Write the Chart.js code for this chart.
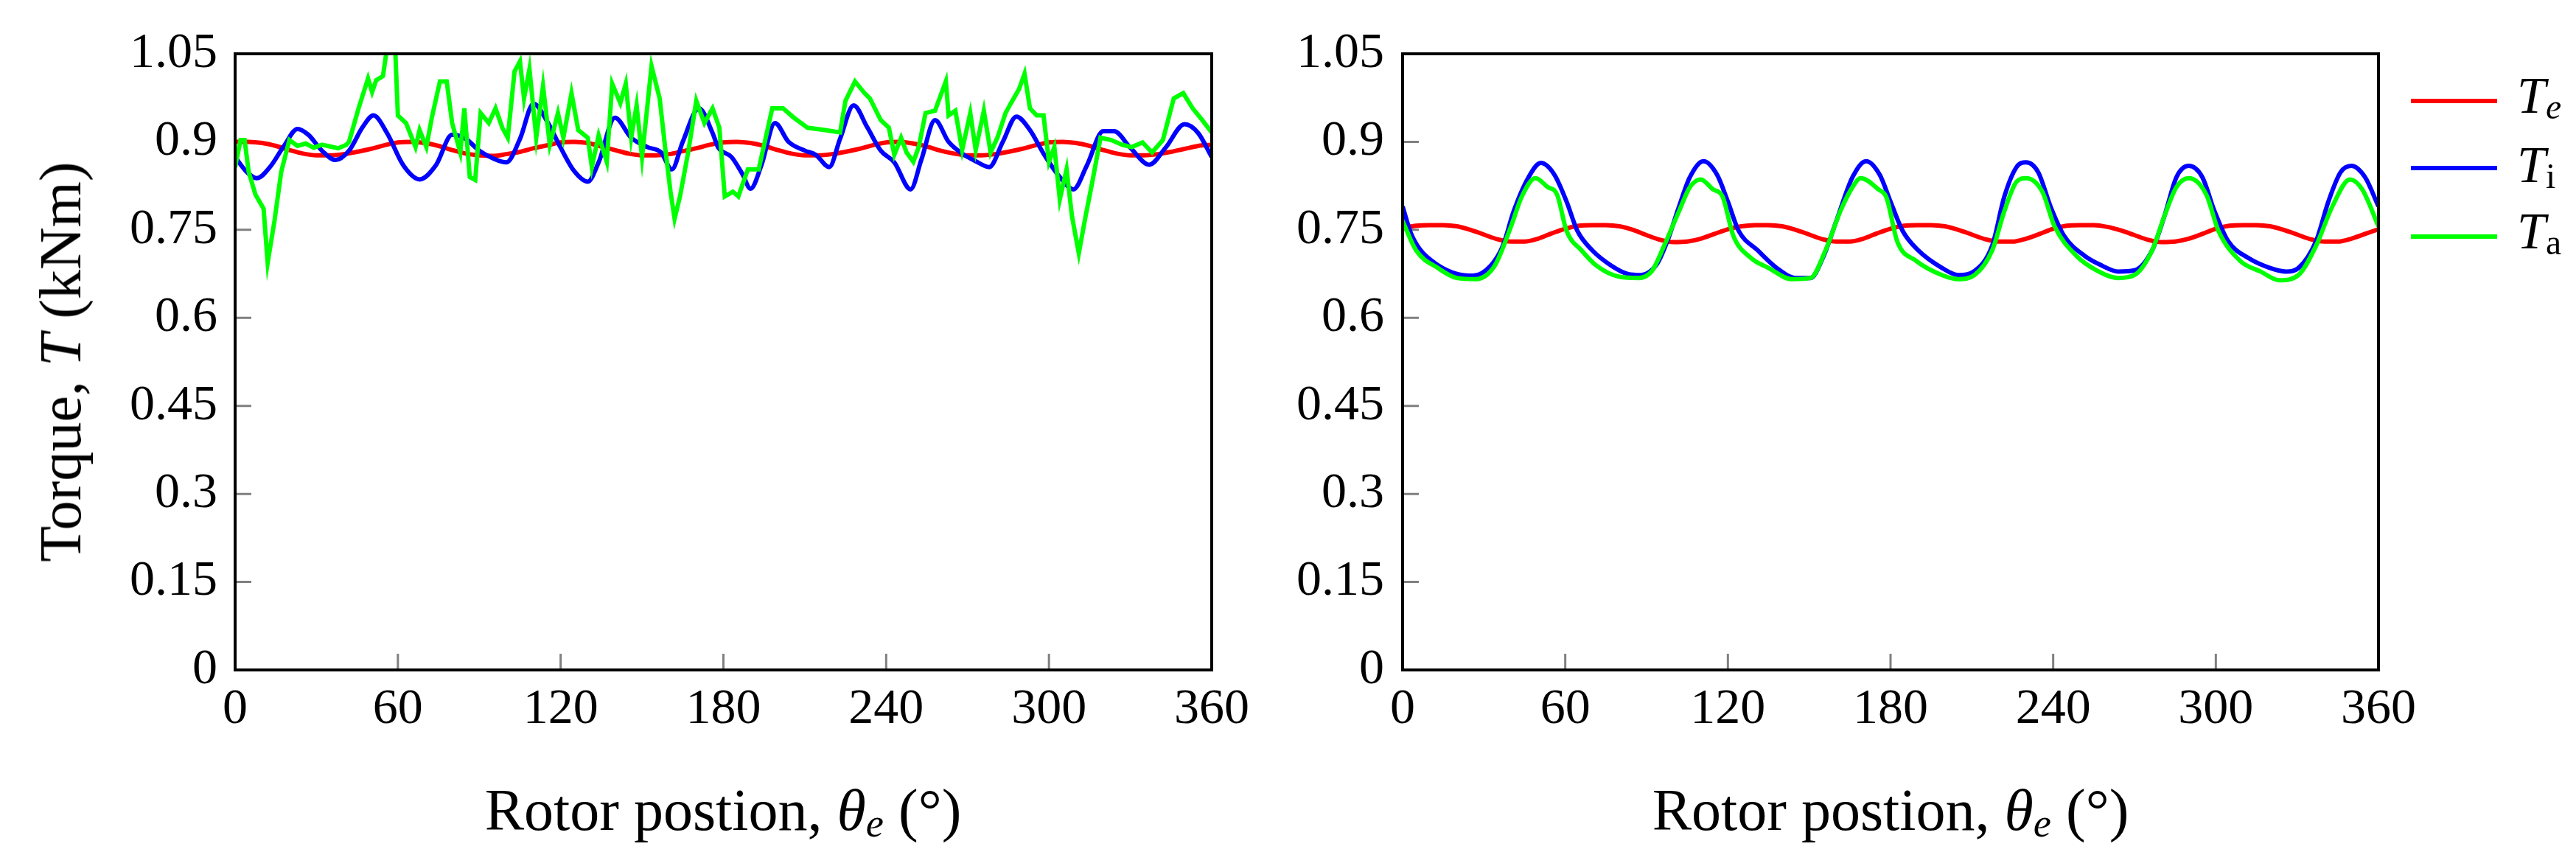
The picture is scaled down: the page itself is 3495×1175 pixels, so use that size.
<!DOCTYPE html>
<html>
<head>
<meta charset="utf-8">
<script src="https://cdn.jsdelivr.net/npm/chart.js@4.4.1/dist/chart.umd.min.js"></script>
<style>
  html, body { margin: 0; padding: 0; background: #fff; }
  body {
    width: 3495px; height: 1175px; position: relative; overflow: hidden;
    font-family: 'Liberation Serif', 'Times New Roman', serif; color: #000;
  }
  canvas { position: absolute; top: 0; }
  #leftChart { left: 0; }
  #rightChart { left: 1750px; }

  .axis-title {
    position: absolute; font-size: 80px; line-height: 1; white-space: nowrap;
    transform: translate(-50%, -50%);
  }
  .axis-title.vertical { transform: translate(-50%, -50%) rotate(-90deg); }
  .axis-title sub, .legend-text sub {
    font-size: 0.68em; vertical-align: -0.16em; line-height: 0;
  }

  .legend-line { position: absolute; left: 3271px; width: 117px; height: 6px; }
  .legend-text { position: absolute; left: 3415px; font-size: 70px; line-height: 1; white-space: nowrap; }
</style>
</head>
<body>

<canvas id="leftChart" width="1750" height="1175"></canvas>
<canvas id="rightChart" width="1745" height="1175"></canvas>

<div class="axis-title vertical" style="left:82px; top:491px;">Torque, <i>T</i> (kNm)</div>
<div class="axis-title" style="left:981px; top:1099px;">Rotor postion, <i>θ</i><sub><i>e</i></sub> (°)</div>
<div class="axis-title" style="left:2565px; top:1099px;">Rotor postion, <i>θ</i><sub><i>e</i></sub> (°)</div>

<div class="legend-line" style="top:134px; background:#ff0000;"></div>
<div class="legend-text" style="top:95px;"><i>T</i><sub><i>e</i></sub></div>
<div class="legend-line" style="top:225px; background:#0000ff;"></div>
<div class="legend-text" style="top:189px;"><i>T</i><sub>i</sub></div>
<div class="legend-line" style="top:318px; background:#00ff00;"></div>
<div class="legend-text" style="top:279px;"><i>T</i><sub>a</sub></div>

<script>
/* =========================
   TICKS
========================= */
const xTicks = [0, 60, 120, 180, 240, 300, 360];
const xTickLabels = ['0', '60', '120', '180', '240', '300', '360'];
const yTicks = [0, 0.15, 0.3, 0.45, 0.6, 0.75, 0.9, 1.05];
const yTickLabels = ['0', '0.15', '0.3', '0.45', '0.6', '0.75', '0.9', '1.05'];

/* =========================
   DATA (rotor angle in deg, torque in kNm)
========================= */
const angles5 = [
  0, 5, 10, 15, 20, 25, 30, 35, 40, 45, 50, 55,
  60, 65, 70, 75, 80, 85, 90, 95, 100, 105, 110, 115,
  120, 125, 130, 135, 140, 145, 150, 155, 160, 165, 170, 175,
  180, 185, 190, 195, 200, 205, 210, 215, 220, 225, 230, 235,
  240, 245, 250, 255, 260, 265, 270, 275, 280, 285, 290, 295,
  300, 305, 310, 315, 320, 325, 330, 335, 340, 345, 350, 355,
  360
];

// left plot - Te
const teLeft = [
  0.900, 0.900, 0.898, 0.893, 0.886, 0.880, 0.877, 0.877, 0.879, 0.883, 0.888, 0.894,
  0.899, 0.900, 0.898, 0.893, 0.886, 0.880, 0.877, 0.876, 0.879, 0.883, 0.889, 0.894,
  0.899, 0.900, 0.898, 0.892, 0.886, 0.880, 0.877, 0.877, 0.879, 0.884, 0.889, 0.895,
  0.899, 0.900, 0.898, 0.893, 0.886, 0.880, 0.877, 0.877, 0.879, 0.883, 0.888, 0.894,
  0.899, 0.900, 0.897, 0.892, 0.885, 0.880, 0.877, 0.877, 0.879, 0.883, 0.888, 0.894,
  0.899, 0.900, 0.898, 0.893, 0.886, 0.880, 0.877, 0.877, 0.879, 0.883, 0.888, 0.893,
  0.895
];

// left plot - Ti
const tiLeftDeg = [
  0, 4, 8, 13, 18, 23, 27, 32, 37, 42, 47, 51, 56, 62, 68, 74, 80, 85, 90, 95,
  100, 105, 110, 115, 120, 125, 130, 134, 140, 146, 152, 157, 161, 165, 171, 176,
  178, 183, 187, 190, 194, 199, 204, 210, 214, 219, 223, 228, 233, 238, 243, 249,
  253, 258, 263, 268, 273, 278, 283, 288, 293, 298, 304, 309, 314, 320, 324, 330,
  337, 343, 350, 355, 360
];
const tiLeft = [
  0.874, 0.850, 0.838, 0.858, 0.893, 0.922, 0.912, 0.885, 0.869, 0.885, 0.925, 0.945, 0.915, 0.860, 0.836, 0.860, 0.912, 0.905, 0.885, 0.872,
  0.865, 0.905, 0.965, 0.935, 0.890, 0.850, 0.832, 0.865, 0.941, 0.907, 0.891, 0.882, 0.853, 0.900, 0.957, 0.915,
  0.891, 0.874, 0.845, 0.820, 0.860, 0.932, 0.900, 0.885, 0.878, 0.857, 0.905, 0.962, 0.925, 0.885, 0.865, 0.819,
  0.870, 0.937, 0.900, 0.880, 0.867, 0.857, 0.900, 0.943, 0.920, 0.880, 0.840, 0.819, 0.860, 0.918, 0.918, 0.890,
  0.861, 0.890, 0.930, 0.915, 0.874
];

// left plot - Ta (measured, noisy)
const taLeftDeg = [
  0, 2, 3.5, 5, 7.5, 10.5, 12, 14.5, 17, 20, 23, 26, 29, 32, 35, 38, 41, 42, 45.5, 49,
  50.5, 52, 54.5, 56, 59, 60, 63, 66.5, 68, 70.5, 72.5, 75.5, 78, 80, 83, 84.5, 86.5, 88.5, 90.5, 93.5,
  96, 98.5, 100.5, 103, 105, 106.5, 108.5, 111, 113.5, 116, 119, 121, 124, 126.5, 130, 131.5, 134, 137, 139, 142,
  144, 146, 148, 150, 153.5, 156.5, 158.5, 160.5, 162, 164, 167, 170, 173, 176, 178.5, 180.5, 183.5, 185.5, 189, 193,
  198, 202, 206, 211, 217.5, 223, 225, 228.5, 232, 234, 238, 241, 243, 245.5, 247.5, 250, 252, 254.5, 258, 260,
  262, 263, 265.5, 268, 271, 273, 276, 278.5, 281, 284, 286, 289, 291, 293, 295.5, 298, 300, 302, 304, 306.5,
  308.5, 311, 313.5, 316, 319, 323, 327, 330.5, 334.5, 338, 342, 346, 349.5, 353, 356.5, 360
];
const taLeft = [
  0.857, 0.903, 0.903, 0.849, 0.810, 0.786, 0.694, 0.765, 0.849, 0.903, 0.893, 0.897, 0.890, 0.895, 0.892, 0.889, 0.895, 0.900, 0.957, 1.008,
  0.985, 1.005, 1.012, 1.060, 1.060, 0.945, 0.932, 0.891, 0.920, 0.891, 0.941, 1.003, 1.003, 0.932, 0.882, 0.957, 0.840, 0.835, 0.949, 0.932,
  0.957, 0.924, 0.907, 1.020, 1.037, 0.974, 1.024, 0.907, 0.995, 0.895, 0.949, 0.907, 0.983, 0.920, 0.907, 0.857, 0.911, 0.866, 0.999, 0.966,
  0.999, 0.907, 0.962, 0.874, 1.029, 0.974, 0.891, 0.815, 0.769, 0.807, 0.882, 0.970, 0.932, 0.957, 0.924, 0.807, 0.815, 0.807, 0.853, 0.853,
  0.957, 0.957, 0.941, 0.924, 0.920, 0.916, 0.970, 1.003, 0.983, 0.974, 0.937, 0.924, 0.878, 0.907, 0.882, 0.866, 0.891, 0.949, 0.953, 0.978,
  1.003, 0.945, 0.953, 0.886, 0.949, 0.886, 0.953, 0.882, 0.907, 0.949, 0.966, 0.990, 1.016, 0.957, 0.945, 0.945, 0.866, 0.891, 0.802, 0.853,
  0.773, 0.710, 0.773, 0.832, 0.907, 0.903, 0.895, 0.891, 0.899, 0.882, 0.903, 0.974, 0.983, 0.957, 0.937, 0.916
];

// right plot - Te
const teRight = [
  0.753, 0.757, 0.758, 0.758, 0.756, 0.750, 0.742, 0.734, 0.730, 0.730, 0.735, 0.744,
  0.752, 0.757, 0.758, 0.758, 0.756, 0.750, 0.741, 0.733, 0.729, 0.730, 0.735, 0.743,
  0.751, 0.756, 0.758, 0.758, 0.756, 0.750, 0.742, 0.734, 0.730, 0.730, 0.735, 0.744,
  0.752, 0.757, 0.758, 0.758, 0.756, 0.750, 0.742, 0.734, 0.730, 0.730, 0.735, 0.743,
  0.752, 0.757, 0.758, 0.758, 0.755, 0.749, 0.741, 0.733, 0.729, 0.730, 0.735, 0.743,
  0.752, 0.757, 0.758, 0.758, 0.756, 0.750, 0.742, 0.734, 0.730, 0.730, 0.735, 0.743,
  0.751
];

// right plot - Ti
const tiRightDeg = [
  0, 3, 6.5, 13, 20, 26, 32.5, 37, 41, 46.5, 51, 56, 60.5, 64.5, 70, 77, 83, 88, 94, 98,
  102, 106, 111, 116, 120, 124, 131, 138, 145, 150.5, 155, 160, 166, 171, 176, 180, 184.5, 190, 199, 205,
  211, 217.5, 222, 226.5, 230, 234.5, 239, 244, 251.5, 258, 264, 270, 276.5, 281, 285.5, 290, 295, 299.5, 304.5, 312,
  320, 326, 330.5, 337, 341.5, 346, 350, 355, 360
];
const tiRight = [
  0.790, 0.745, 0.716, 0.690, 0.675, 0.672, 0.689, 0.723, 0.782, 0.840, 0.864, 0.844, 0.798, 0.748, 0.715, 0.689, 0.675, 0.673, 0.693, 0.735,
  0.790, 0.840, 0.867, 0.844, 0.798, 0.748, 0.715, 0.685, 0.668, 0.668, 0.702, 0.765, 0.840, 0.867, 0.844, 0.798, 0.748, 0.716, 0.685, 0.673,
  0.680, 0.723, 0.807, 0.857, 0.865, 0.848, 0.790, 0.740, 0.706, 0.689, 0.679, 0.681, 0.715, 0.773, 0.840, 0.859, 0.840, 0.782, 0.731, 0.702,
  0.685, 0.679, 0.685, 0.731, 0.798, 0.848, 0.859, 0.840, 0.790
];

// right plot - Ta
const taRightDeg = [
  0, 5, 13, 20, 27, 34, 40, 44, 49, 53.5, 57, 60.5, 66, 71.5, 80, 87, 92, 96.5, 102, 106,
  110, 114.5, 118, 122, 128.5, 135, 143.5, 150.5, 156, 161.5, 166, 169, 175.5, 178.5, 182.5, 189.5, 199, 205, 211, 217.5,
  222, 226.5, 230, 236, 240.5, 248.5, 256, 264, 270, 276.5, 281, 285.5, 290, 296.5, 301, 309, 316.5, 323.5, 330.5, 337,
  343, 349.5, 354, 360
];
const taRight = [
  0.765, 0.715, 0.685, 0.668, 0.666, 0.689, 0.756, 0.807, 0.838, 0.823, 0.810, 0.748, 0.715, 0.689, 0.670, 0.668, 0.680, 0.723, 0.782, 0.823,
  0.836, 0.819, 0.807, 0.740, 0.702, 0.685, 0.666, 0.668, 0.715, 0.782, 0.823, 0.838, 0.819, 0.805, 0.730, 0.697, 0.673, 0.666, 0.673, 0.715,
  0.782, 0.832, 0.838, 0.815, 0.756, 0.706, 0.681, 0.668, 0.673, 0.715, 0.773, 0.823, 0.838, 0.810, 0.748, 0.697, 0.679, 0.664, 0.673, 0.723,
  0.790, 0.836, 0.819, 0.756
];

/* =========================
   HELPERS
========================= */
function toPoints(xs, ys) {
  return xs.map((x, i) => ({ x: x, y: ys[i] }));
}

function lineSet(label, color, points, order, smooth) {
  return {
    label: label,
    data: points,
    borderColor: color,
    backgroundColor: color,
    borderWidth: 6,
    pointRadius: 0,
    fill: false,
    clip: 0,
    order: order,
    tension: smooth ? 0.4 : 0,
    cubicInterpolationMode: smooth ? 'monotone' : 'default'
  };
}

// inward grey ticks + black frame, like the pgfplots box
const framePlugin = {
  id: 'frame',
  beforeDatasetsDraw(chart) {
    const { ctx, chartArea: a, scales } = chart;
    ctx.save();
    ctx.strokeStyle = '#808080';
    ctx.lineWidth = 3;
    ctx.beginPath();
    yTicks.slice(1, -1).forEach(v => {
      const py = scales.y.getPixelForValue(v);
      ctx.moveTo(a.left, py);
      ctx.lineTo(a.left + 22, py);
    });
    xTicks.slice(1, -1).forEach(v => {
      const px = scales.x.getPixelForValue(v);
      ctx.moveTo(px, a.bottom);
      ctx.lineTo(px, a.bottom - 22);
    });
    ctx.stroke();
    ctx.restore();
  },
  afterDatasetsDraw(chart) {
    const { ctx, chartArea: a } = chart;
    ctx.save();
    ctx.strokeStyle = '#000';
    ctx.lineWidth = 4;
    ctx.strokeRect(a.left, a.top, a.right - a.left, a.bottom - a.top);
    ctx.restore();
  }
};

function makeOptions(yWidth, padRight, labelPad) {
  const tickFont = { family: "'Liberation Serif', 'Times New Roman', serif", size: 68 };
  return {
    responsive: false,
    animation: false,
    devicePixelRatio: 1,
    layout: { padding: { top: 73, right: padRight, left: 0, bottom: 0 } },
    plugins: { legend: { display: false }, tooltip: { enabled: false } },
    scales: {
      x: {
        type: 'linear',
        min: 0,
        max: 360,
        afterBuildTicks: s => { s.ticks = xTicks.map(v => ({ value: v })); },
        afterFit: s => { s.height = 266; },
        grid: { display: false, drawTicks: false },
        border: { display: false },
        ticks: {
          color: '#000',
          font: tickFont,
          padding: 13,
          maxRotation: 0,
          autoSkip: false,
          callback: (v, i) => xTickLabels[i]
        }
      },
      y: {
        type: 'linear',
        min: 0,
        max: 1.05,
        afterBuildTicks: s => { s.ticks = yTicks.map(v => ({ value: v })); },
        afterFit: s => { s.width = yWidth; },
        grid: { display: false, drawTicks: false },
        border: { display: false },
        ticks: {
          color: '#000',
          font: tickFont,
          padding: labelPad,
          autoSkip: false,
          callback: (v, i) => yTickLabels[i]
        }
      }
    }
  };
}

/* =========================
   LEFT CHART
========================= */
new Chart(document.getElementById('leftChart').getContext('2d'), {
  type: 'line',
  data: {
    datasets: [
      lineSet('Te', '#ff0000', toPoints(angles5, teLeft), 2, true),
      lineSet('Ti', '#0000ff', toPoints(tiLeftDeg, tiLeft), 1, true),
      lineSet('Ta', '#00ff00', toPoints(taLeftDeg, taLeft), 0, false)
    ]
  },
  options: makeOptions(319, 106, 24),
  plugins: [framePlugin]
});

/* =========================
   RIGHT CHART
========================= */
new Chart(document.getElementById('rightChart').getContext('2d'), {
  type: 'line',
  data: {
    datasets: [
      lineSet('Te', '#ff0000', toPoints(angles5, teRight), 2, true),
      lineSet('Ti', '#0000ff', toPoints(tiRightDeg, tiRight), 1, true),
      lineSet('Ta', '#00ff00', toPoints(taRightDeg, taRight), 0, true)
    ]
  },
  options: makeOptions(153, 268, 25),
  plugins: [framePlugin]
});
</script>
</body>
</html>
